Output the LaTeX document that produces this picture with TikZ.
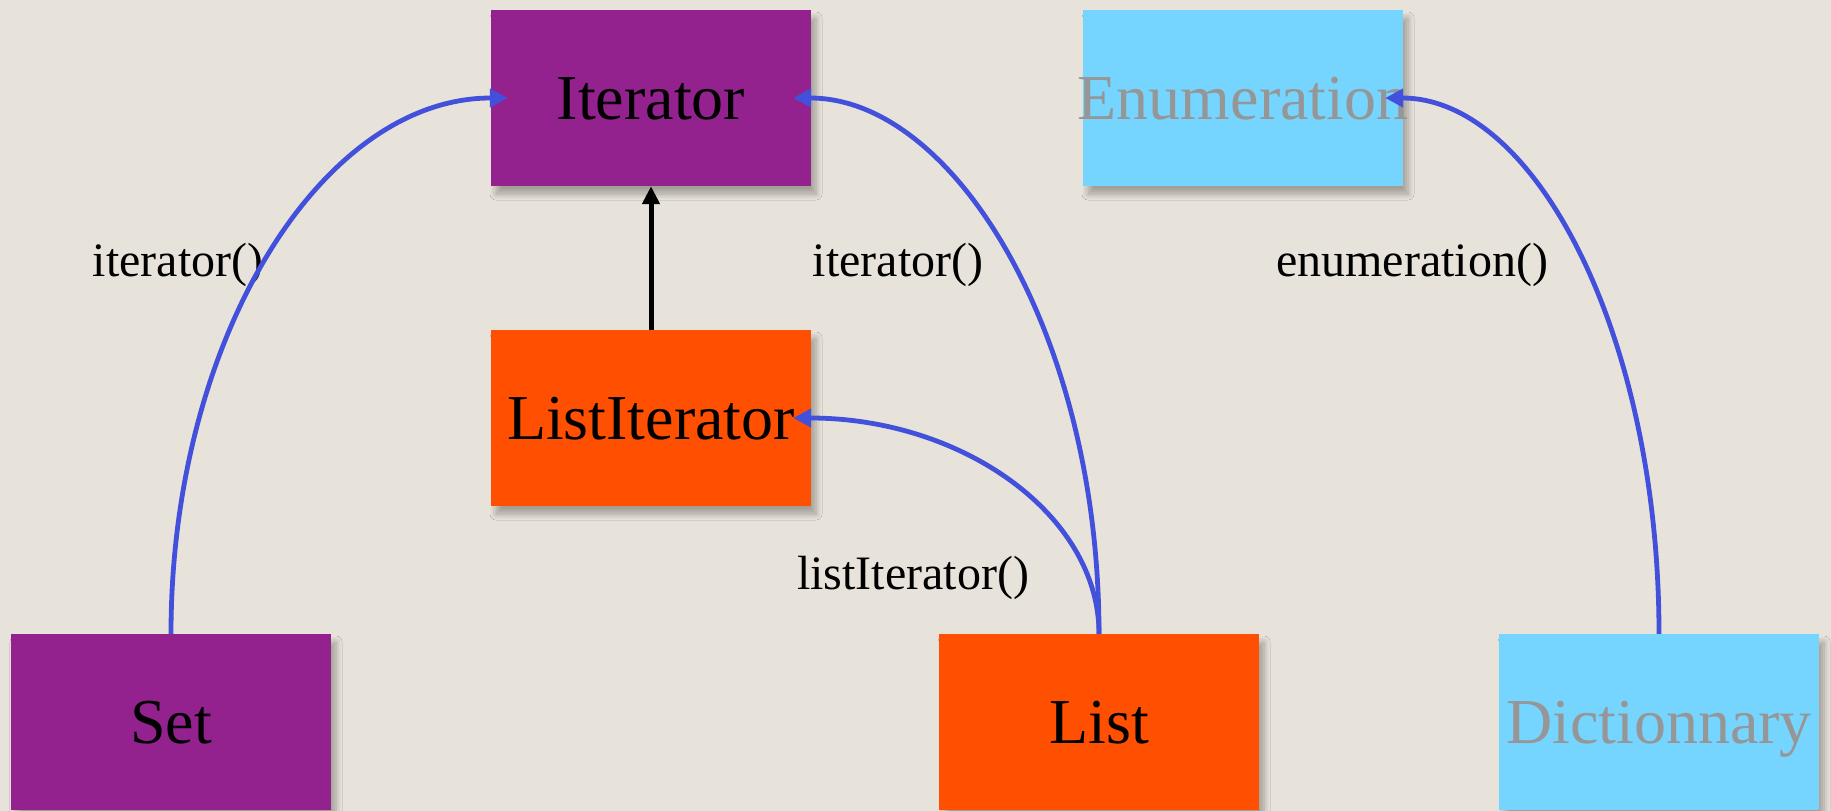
\documentclass[tikz,border=0pt]{standalone}
\usepackage{fontspec}
\setmainfont{Liberation Serif}
\usetikzlibrary{arrows.meta,shadows.blur}
\definecolor{bg}{RGB}{232,227,218}
\definecolor{purp}{RGB}{147,33,142}
\definecolor{orng}{RGB}{255,79,0}
\definecolor{lblue}{RGB}{117,213,255}
\definecolor{gtext}{RGB}{150,150,150}
\definecolor{conn}{RGB}{66,80,220}
\begin{document}
\begin{tikzpicture}[x=1pt,y=-1pt,
  box/.style={rectangle, minimum width=320pt, minimum height=176pt, inner sep=0pt,
    text height=42pt, text depth=0pt, font=\fontsize{64}{70}\selectfont,
    blur shadow={shadow xshift=5pt, shadow yshift=-8pt, shadow blur radius=6pt, shadow blur steps=8, shadow opacity=30}},
  lbl/.style={anchor=base, inner sep=0pt, font=\fontsize{48}{56}\selectfont},
  link/.style={draw=conn, line width=4.8pt, -{Triangle[length=18pt,width=18pt]}},
  inherit/.style={draw=black, line width=5pt, -{Triangle[length=18pt,width=17pt]}}]
\fill[bg] (0,0) rectangle (1831,811);
\useasboundingbox (0,0) rectangle (1831,811);

\node[box, fill=purp] (Iterator) at (651,98) {\makebox[0pt]{Iterator}};
\node[box, fill=lblue, text=gtext] (Enumeration) at (1243,98) {\makebox[0pt]{Enumeration}};
\node[box, fill=orng] (ListIterator) at (651,418) {\makebox[0pt]{ListIterator}};
\node[box, fill=purp] (Set) at (171,722) {\makebox[0pt]{Set}};
\node[box, fill=orng] (List) at (1099,722) {\makebox[0pt]{List}};
\node[box, fill=lblue, text=gtext] (Dict) at (1659,722) {\makebox[0pt]{Dictionnary}};

\node[lbl] (l1) at (178,276) {iterator()};
\node[lbl] (l2) at (898,276) {iterator()};
\node[lbl] (l3) at (1412,276) {enumeration()};
\node[lbl] (l4) at (913,589) {listIterator()};

\draw[inherit] (ListIterator.north) -- (Iterator.south);

\draw[link] (Set.north) .. controls +(0,-296) and +(-186,0) .. ([xshift=17pt]Iterator.west);
\draw[link] (List.north) .. controls +(0,-300) and +(160,0) .. ([xshift=-18pt]Iterator.east);
\draw[link] (List.north) .. controls +(0,-119) and +(169,0) .. ([xshift=-18pt]ListIterator.east);
\draw[link] (Dict.north) .. controls +(0,-296) and +(151,0) .. ([xshift=-18pt]Enumeration.east);
\end{tikzpicture}
\end{document}
